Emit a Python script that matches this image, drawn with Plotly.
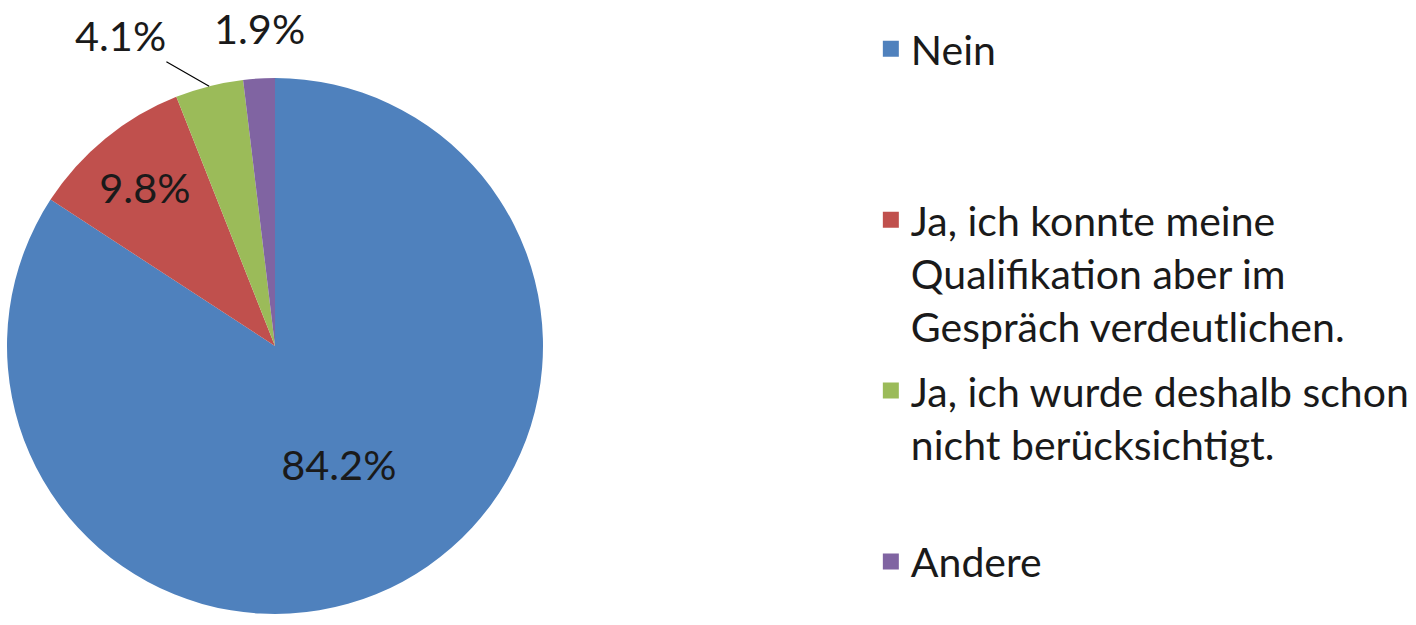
import math
import plotly.graph_objects as go

labels = [
    "Nein",
    "Ja, ich konnte meine<br>Qualifikation aber im<br>Gespräch verdeutlichen.",
    "Ja, ich wurde deshalb schon<br>nicht berücksichtigt.",
    "Andere",
]
legend_spacers = ["<br> <br> ", "", "<br> ", ""]
values = [84.2, 9.8, 4.1, 1.9]
text_labels = ["84.2%", "9.8%", "4.1%", "1.9%"]
colors = ["#4F81BD", "#C0504D", "#9BBB59", "#8064A2"]
inside_mask = [True, True, False, False]

FONT = "Lato, Roboto, sans-serif"
TEXT_COLOR = "#1a1a1a"
W, H = 1416, 625
DOM_X = [7 / W, 543 / W]
DOM_Y = [11 / H, 547 / H]

fig = go.Figure()

fig.add_trace(
    go.Pie(
        labels=labels,
        values=values,
        text=[t if m else "" for t, m in zip(text_labels, inside_mask)],
        textinfo="text",
        textposition="inside",
        sort=False,
        direction="clockwise",
        rotation=0,
        marker=dict(colors=colors, line=dict(width=0)),
        insidetextfont=dict(family=FONT, size=41.5, color=TEXT_COLOR),
        insidetextorientation="horizontal",
        domain=dict(x=DOM_X, y=DOM_Y),
        hoverinfo="skip",
        showlegend=False,
    )
)

# legend entries (square markers) built from the same label/colour lists
for i, (lab, sp, col) in enumerate(zip(labels, legend_spacers, colors)):
    fig.add_trace(
        go.Scatter(
            x=[None], y=[None], mode="markers",
            name=lab + sp,
            legendgroup=f"g{i}",
            marker=dict(symbol="square", size=16, color=col),
            hoverinfo="skip",
        )
    )

# outside labels for the small slices, placed from the slice geometry
cx = W * (DOM_X[0] + DOM_X[1]) / 2
cy = H * (1 - (DOM_Y[0] + DOM_Y[1]) / 2)
r = min(W * (DOM_X[1] - DOM_X[0]), H * (DOM_Y[1] - DOM_Y[0])) / 2
total = sum(values)
cum = 0.0
mids = []
for v in values:
    mids.append((cum + v / 2) / total)
    cum += v

for i, (t, m) in enumerate(zip(text_labels, inside_mask)):
    if m:
        continue
    th = 2 * math.pi * mids[i]
    px = cx + r * math.sin(th)
    py = cy - r * math.cos(th)
    if i == 2:
        fig.add_annotation(
            x=px / W, y=1 - py / H, xref="paper", yref="paper",
            text=t, showarrow=True, arrowhead=0, arrowwidth=1.2,
            arrowcolor="#000000", ax=-89, ay=-51, standoff=0,
            font=dict(family=FONT, size=41.5, color=TEXT_COLOR),
        )
    else:
        fig.add_annotation(
            x=px / W, y=1 - py / H, xref="paper", yref="paper",
            text=t, showarrow=False, xanchor="center", yanchor="bottom",
            yshift=23,
            font=dict(family=FONT, size=41.5, color=TEXT_COLOR),
        )

fig.update_layout(
    width=W,
    height=H,
    margin=dict(l=0, r=0, t=0, b=0, autoexpand=False),
    paper_bgcolor="white",
    plot_bgcolor="white",
    showlegend=True,
    xaxis=dict(visible=False),
    yaxis=dict(visible=False),
    legend=dict(
        x=0.615,
        y=0.975,
        xanchor="left",
        yanchor="top",
        valign="top",
        tracegroupgap=8,
        font=dict(family=FONT, size=41, color=TEXT_COLOR),
        bgcolor="rgba(0,0,0,0)",
    ),
)

fig.write_html(
    "out.html",
    config={"displayModeBar": False},
    post_script="document.body.style.margin='0';document.body.style.overflow='hidden';",
)
